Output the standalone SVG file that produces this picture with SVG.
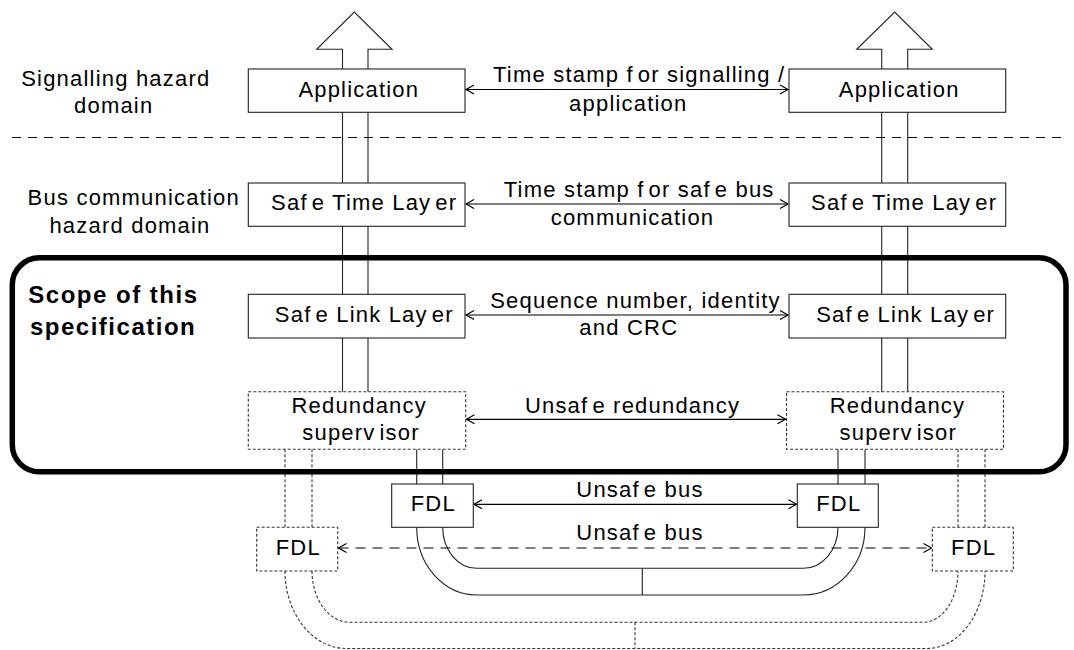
<svg xmlns="http://www.w3.org/2000/svg" width="1074" height="650" viewBox="0 0 1074 650">
<defs>
<style>
.t{font-family:"Liberation Sans",Arial,sans-serif;font-size:22px;fill:#000;text-anchor:middle;letter-spacing:1.2px}
.b{font-family:"Liberation Sans",Arial,sans-serif;font-size:24px;font-weight:bold;fill:#000;letter-spacing:1.5px}
.box{fill:#fff;stroke:#222;stroke-width:1.1}
.dbox{fill:#fff;stroke:#333;stroke-width:1.1;stroke-dasharray:3 2}
.ln{fill:none;stroke:#222;stroke-width:1.1}
.dln{fill:none;stroke:#333;stroke-width:1.1;stroke-dasharray:3 2}
.arr{fill:none;stroke:#000;stroke-width:1.2;marker-start:url(#ah);marker-end:url(#ah)}
.darr{fill:none;stroke:#000;stroke-width:1.2;stroke-dasharray:10 7;marker-start:url(#ah);marker-end:url(#ah)}
</style>
<marker id="ah" viewBox="-10 -6 12 12" refX="0" refY="0" markerWidth="12" markerHeight="12" markerUnits="userSpaceOnUse" orient="auto-start-reverse">
<path d="M-8,-4.5 L0,0 L-8,4.5" fill="none" stroke="#000" stroke-width="1.2"/>
</marker>
</defs>
<rect width="1074" height="650" fill="#fff"/>

<g id="separator">
<line x1="12" y1="137.5" x2="1062" y2="137.5" stroke="#000" stroke-width="1.2" stroke-dasharray="9 7"/>
</g>

<g id="labels">
<text class="t" x="115.8" y="86" letter-spacing="0.85">Signalling hazard</text>
<text class="t" x="113.7" y="113.3" letter-spacing="1.4">domain</text>
<text class="t" x="133.8" y="205" letter-spacing="1.5">Bus communication</text>
<text class="t" x="130" y="232.7" letter-spacing="0.95">hazard domain</text>
</g>

<g id="connectors">
<path class="ln" d="M342.5,392 V49.3 H316.7 L354.3,12 L392,49.3 H368 V392"/>
<path class="ln" d="M881.7,392 V49.3 H856.7 L894.7,12 L932.3,49.3 H907.7 V392"/>
<line class="ln" x1="416.7" y1="449.3" x2="416.7" y2="484"/>
<line class="ln" x1="442.7" y1="449.3" x2="442.7" y2="484"/>
<line class="ln" x1="838" y1="449.3" x2="838" y2="484"/>
<line class="ln" x1="865" y1="449.3" x2="865" y2="484"/>
<line class="dln" x1="285" y1="449.3" x2="285" y2="527.3"/>
<line class="dln" x1="312" y1="449.3" x2="312" y2="527.3"/>
<line class="dln" x1="958" y1="449.3" x2="958" y2="527.3"/>
<line class="dln" x1="985" y1="449.3" x2="985" y2="527.3"/>
<path class="ln" d="M416.7,527.3 A60,67.7 0 0 0 476.7,595 H803.3 A61.7,67.7 0 0 0 865,527.3"/>
<path class="ln" d="M442.7,527.3 A34,41 0 0 0 476.7,568.3 H803.3 A34.7,41 0 0 0 838,527.3"/>
<line class="ln" x1="642.3" y1="568.3" x2="642.3" y2="595"/>
<path class="dln" d="M285,571 A61.7,77.5 0 0 0 346.7,648.5 H926.7 A58.3,77.5 0 0 0 985,571"/>
<path class="dln" d="M312,571 A37.7,51.3 0 0 0 349.7,622.3 H923.3 A34.7,51.3 0 0 0 958,571"/>
<line class="dln" x1="635" y1="622.3" x2="635" y2="648.5"/>
<line class="arr" x1="466" y1="89.5" x2="788" y2="89.5"/>
<line class="arr" x1="466" y1="204" x2="788" y2="204"/>
<line class="arr" x1="466" y1="315" x2="788" y2="315"/>
<line class="arr" x1="466.5" y1="419.3" x2="785.5" y2="419.3"/>
<line class="arr" x1="474" y1="504.3" x2="796.5" y2="504.3"/>
<line class="darr" x1="338.5" y1="548" x2="931.5" y2="548"/>
</g>

<g id="connector-labels">
<text class="t" x="639.2" y="81.7" letter-spacing="1.06">Time stamp <tspan dx="0">f</tspan><tspan dx="4">or signalling /</tspan></text>
<text class="t" x="628.3" y="111" letter-spacing="1.15">application</text>
<text class="t" x="639.2" y="196.7" letter-spacing="1.26">Time stamp f<tspan dx="4">or saf</tspan><tspan dx="4">e bus</tspan></text>
<text class="t" x="632.5" y="225" letter-spacing="1.4">communication</text>
<text class="t" x="635.5" y="308.3" letter-spacing="1.27">Sequence number, identity</text>
<text class="t" x="628.8" y="335" letter-spacing="1.75">and CRC</text>
<text class="t" x="632.5" y="413.3" letter-spacing="0.5">Unsaf<tspan dx="4">e redundancy</tspan></text>
<text class="t" x="640" y="497.3" letter-spacing="1.27">Unsaf<tspan dx="4">e bus</tspan></text>
<text class="t" x="640" y="540" letter-spacing="1.27">Unsaf<tspan dx="4">e bus</tspan></text>
</g>

<g id="scope">
<rect x="12.3" y="257.8" width="1053.7" height="214" rx="27" ry="27" fill="none" stroke="#000" stroke-width="5.5"/>
<text class="b" x="28.3" y="303.3">Scope of this</text>
<text class="b" x="30" y="334.5">specification</text>
</g>

<g id="app-left">
<rect class="box" x="248.3" y="69" width="216.7" height="43.3"/>
<text class="t" x="358.8" y="96.7" letter-spacing="1.0">Application</text>
</g>
<g id="app-right">
<rect class="box" x="789" y="69" width="216.7" height="43.3"/>
<text class="t" x="899.2" y="96.7" letter-spacing="1.0">Application</text>
</g>
<g id="stl-left">
<rect class="box" x="248.3" y="183" width="216.7" height="43.3"/>
<text class="t" x="364.2" y="210" letter-spacing="1.11">Saf<tspan dx="4">e Time Lay</tspan><tspan dx="4">er</tspan></text>
</g>
<g id="stl-right">
<rect class="box" x="789" y="183" width="216.7" height="43.3"/>
<text class="t" x="904.2" y="210" letter-spacing="1.11">Saf<tspan dx="4">e Time Lay</tspan><tspan dx="4">er</tspan></text>
</g>
<g id="sll-left">
<rect class="box" x="248.3" y="294.3" width="216.7" height="43.7"/>
<text class="t" x="364.3" y="321.7" letter-spacing="1.13">Saf<tspan dx="4">e Link Lay</tspan><tspan dx="4">er</tspan></text>
</g>
<g id="sll-right">
<rect class="box" x="789" y="294.3" width="216.7" height="43.7"/>
<text class="t" x="905.7" y="321.7" letter-spacing="1.13">Saf<tspan dx="4">e Link Lay</tspan><tspan dx="4">er</tspan></text>
</g>
<g id="rs-left">
<rect class="dbox" x="248.3" y="391.7" width="217.4" height="57.6"/>
<text class="t" x="359.2" y="413.3" letter-spacing="1.28">Redundancy</text>
<text class="t" x="361" y="440" letter-spacing="1.25">superv<tspan dx="4">isor</tspan></text>
</g>
<g id="rs-right">
<rect class="dbox" x="786.5" y="391.7" width="217" height="57.6"/>
<text class="t" x="897.5" y="413.3" letter-spacing="1.28">Redundancy</text>
<text class="t" x="898.3" y="440" letter-spacing="1.25">superv<tspan dx="4">isor</tspan></text>
</g>
<g id="fdl-left">
<rect class="box" x="391.7" y="484" width="81.6" height="43.3"/>
<text class="t" x="433.3" y="511" letter-spacing="2.5">FDL</text>
</g>
<g id="fdl-right">
<rect class="box" x="797.3" y="484" width="81" height="43.3"/>
<text class="t" x="838.8" y="511" letter-spacing="2.5">FDL</text>
</g>
<g id="fdl-left-red">
<rect class="dbox" x="256.7" y="527.3" width="81" height="43.7"/>
<text class="t" x="298.3" y="555" letter-spacing="2.5">FDL</text>
</g>
<g id="fdl-right-red">
<rect class="dbox" x="932.3" y="527.3" width="81" height="43.7"/>
<text class="t" x="973.7" y="555" letter-spacing="2.5">FDL</text>
</g>
</svg>
